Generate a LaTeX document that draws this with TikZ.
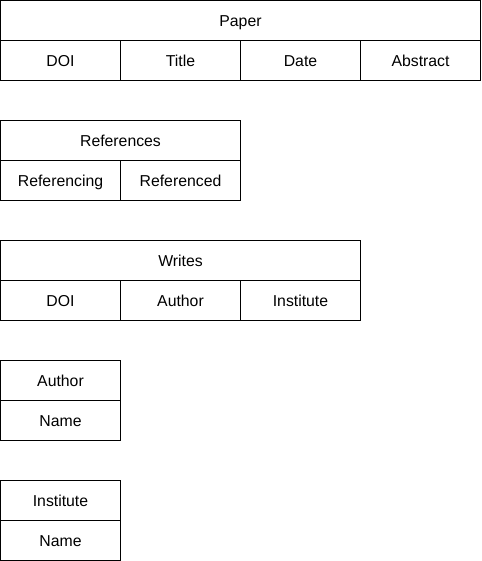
\documentclass[tikz,border=0pt]{standalone}
\usepackage{fontspec}
\setmainfont{Liberation Sans}
\begin{document}
\begin{tikzpicture}[x=1pt,y=-1pt,
  cell/.style={draw=black, line width=1pt, fill=white, minimum height=40pt, inner sep=0pt, text height=11.3pt, text depth=0pt, font=\fontsize{15.8}{18}\selectfont},
  w1/.style={cell, minimum width=120pt},
  w2/.style={cell, minimum width=240pt},
  w3/.style={cell, minimum width=360pt},
  w4/.style={cell, minimum width=480pt}]
\useasboundingbox[fill=white] (0,0) rectangle (481,561);
% Paper
\node[w4] (paper) at (240.5,20.5) {Paper};
\node[w1] (pdoi) at (60.5,60.5) {DOI};
\node[w1] (ptitle) at (180.5,60.5) {Title};
\node[w1] (pdate) at (300.5,60.5) {Date};
\node[w1] (pabs) at (420.5,60.5) {Abstract};
% References
\node[w2] (refs) at (120.5,140.5) {References};
\node[w1] (refing) at (60.5,180.5) {Referencing};
\node[w1] (refed) at (180.5,180.5) {Referenced};
% Writes
\node[w3] (writes) at (180.5,260.5) {Writes};
\node[w1] (wdoi) at (60.5,300.5) {DOI};
\node[w1] (wauth) at (180.5,300.5) {Author};
\node[w1] (winst) at (300.5,300.5) {Institute};
% Author
\node[w1] (author) at (60.5,380.5) {Author};
\node[w1] (aname) at (60.5,420.5) {Name};
% Institute
\node[w1] (inst) at (60.5,500.5) {Institute};
\node[w1] (iname) at (60.5,540.5) {Name};
\end{tikzpicture}
\end{document}
